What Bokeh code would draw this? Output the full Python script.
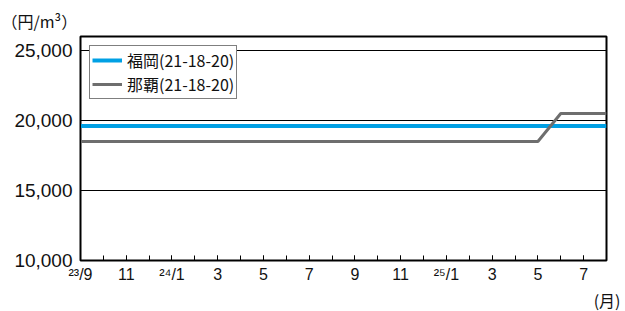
from bokeh.plotting import figure
from bokeh.models import FixedTicker, NumeralTickFormatter, Range1d, Legend, LegendItem, Title
from bokeh.embed import file_html
from bokeh.resources import INLINE

# Data
month_idx = list(range(24))  # 23/9 .. 25/8
tick_positions = [0, 2, 4, 6, 8, 10, 12, 14, 16, 18, 20, 22]
tick_labels = ["²³/9", "11", "²⁴/1", "3", "5", "7", "9", "11", "²⁵/1", "3", "5", "7"]
fukuoka = [19600] * 24
naha = [18500] * 21 + [20500] * 3
series_names = ["福岡(21-18-20)", "那覇(21-18-20)"]
y_ticks = [10000, 15000, 20000, 25000]
y_top = 26000
x_end = 23
unit_label = "（円/m³）"
month_label = "(月)"

NUM = "Liberation Sans"
CJK = "Noto Sans CJK JP"

p = figure(width=625, height=311, output_backend="svg", toolbar_location=None,
           x_range=Range1d(0, x_end), y_range=Range1d(10000, y_top),
           min_border_left=80, min_border_right=19, min_border_top=36, min_border_bottom=50,
           background_fill_color="white", border_fill_color="white")

p.outline_line_color = "black"
p.outline_line_width = 2
p.outline_line_alpha = 1

r1 = p.line(month_idx, fukuoka, line_color="#00a0e4", line_width=4)
r2 = p.line(month_idx, naha, line_color="#6e6e6e", line_width=3)

# axes
p.xaxis.ticker = FixedTicker(ticks=tick_positions, minor_ticks=list(range(1, 23)))
p.xaxis.major_label_overrides = {t: l for t, l in zip(tick_positions, tick_labels)}
p.xaxis.major_tick_in = 5
p.xaxis.major_tick_out = 0
p.xaxis.minor_tick_in = 5
p.xaxis.minor_tick_out = 0
p.xaxis.major_label_standoff = 5
p.xaxis.major_label_text_font = NUM
p.xaxis.major_label_text_font_size = "16px"
p.xaxis.major_label_text_color = "#111111"
p.xaxis.axis_line_color = "black"

p.yaxis.ticker = FixedTicker(ticks=y_ticks)
p.yaxis.formatter = NumeralTickFormatter(format="0,0")
p.yaxis.major_tick_in = 0
p.yaxis.major_tick_out = 0
p.yaxis.minor_tick_in = 0
p.yaxis.minor_tick_out = 0
p.yaxis.major_label_standoff = 8
p.yaxis.major_label_text_font = NUM
p.yaxis.major_label_text_font_size = "19px"
p.yaxis.major_label_text_color = "#111111"
p.yaxis.axis_line_color = "black"

p.xgrid.grid_line_color = None
p.ygrid.ticker = FixedTicker(ticks=[15000, 20000, 25000])
p.ygrid.grid_line_color = "black"
p.ygrid.grid_line_width = 1

legend = Legend(items=[LegendItem(label=series_names[0], renderers=[r1]),
                       LegendItem(label=series_names[1], renderers=[r2])],
                location="top_left")
legend.label_text_font = CJK
legend.label_text_font_size = "16px"
legend.label_text_color = "#111111"
legend.border_line_color = "black"
legend.border_line_width = 1
legend.background_fill_alpha = 1
legend.glyph_width = 30
legend.glyph_height = 16
legend.label_height = 20
legend.label_standoff = 5
legend.padding = 2
legend.spacing = 0
legend.margin = 9
p.add_layout(legend)

# unit labels as titles
p.title.text = unit_label
p.title.align = "left"
p.title.offset = -79
p.title.standoff = 8
p.title.text_font = CJK
p.title.text_font_size = "16px"
p.title.text_font_style = "normal"
p.title.text_color = "#111111"

p.add_layout(Title(text=month_label, align="right", offset=-14, standoff=0,
                   text_font=CJK, text_font_size="16px", text_font_style="normal",
                   text_color="#111111"), "below")

open("out.html", "w").write(file_html(p, INLINE))
